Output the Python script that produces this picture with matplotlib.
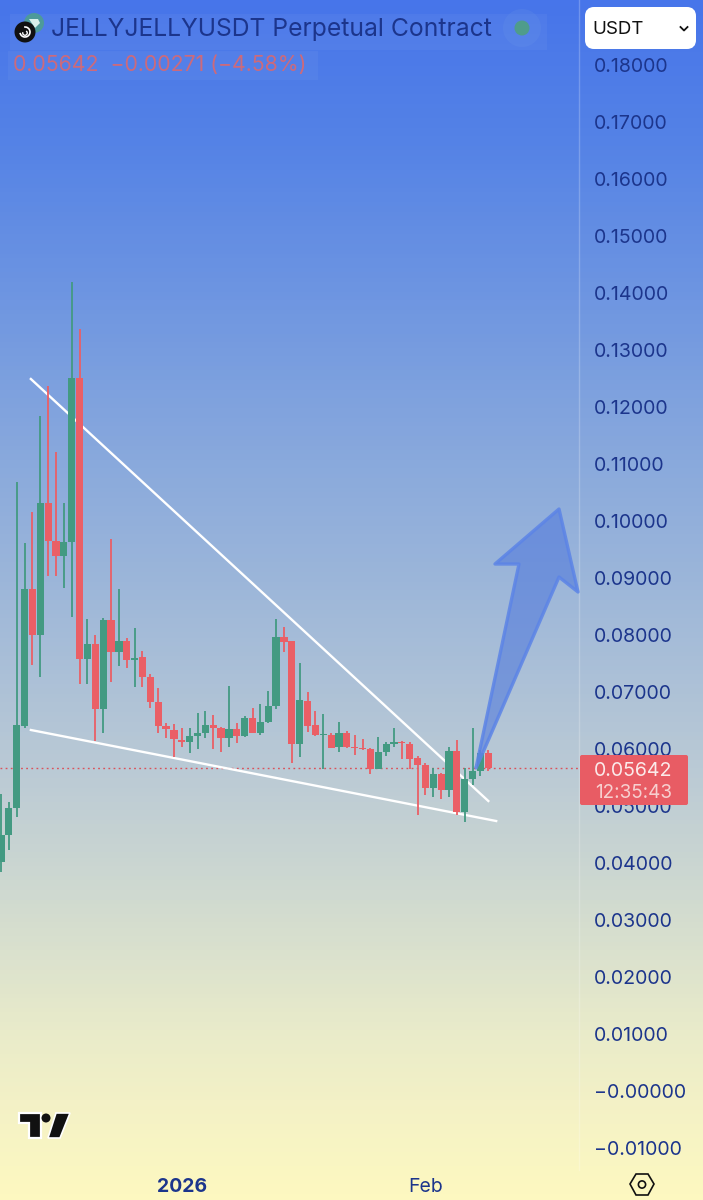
import numpy as np
import pandas as pd
import matplotlib
matplotlib.use("Agg")
import matplotlib.pyplot as plt
import matplotlib.dates as mdates
from matplotlib.colors import LinearSegmentedColormap, to_rgba
from matplotlib.patches import Polygon, Circle, FancyBboxPatch, Rectangle, Arc
from matplotlib.ticker import FixedLocator, FixedFormatter
from matplotlib.transforms import ScaledTranslation

plt.rcParams['font.family'] = ['Inter', 'DejaVu Sans']

# ---------- data ----------
start_date = "2025-12-09"
opens = [.04000,.04474,.04948,.06386,.08790,.07983,.10298,.09632,.09369,.09614,
         .12491,.07562,.07825,.06684,.08246,.07684,.07877,.07544,.07597,.07246,
         .06807,.06386,.06316,.06140,.06105,.06211,.06263,.06404,.06351,.06176,
         .06333,.06211,.06527,.06263,.06456,.06737,.07947,.07877,.06070,.06825,
         .06404,.06228,.06228,.06018,.06263,.06018,.06000,.05983,.05632,.05930,
         .06070,.06105,.06070,.05825,.05702,.05298,.05544,.05263,.05948,.04877,
         .05456,.05597,.05912]
closes = [.04474,.04948,.06404,.08790,.07983,.10298,.09632,.09369,.09614,.12491,
          .07562,.07825,.06684,.08246,.07684,.07877,.07544,.07579,.07246,.06807,
          .06386,.06333,.06158,.06105,.06211,.06263,.06404,.06351,.06176,.06333,
          .06211,.06527,.06263,.06456,.06737,.07947,.07860,.06070,.06842,.06386,
          .06228,.06246,.06000,.06263,.06018,.06000,.05983,.05632,.05930,.06070,
          .06105,.06088,.05807,.05702,.05298,.05544,.05263,.05948,.04877,.05456,
          .05597,.05912,.05642]
highs = [.05193,.05053,.10667,.09597,.10140,.11825,.12351,.11193,.10298,.14176,
         .13351,.08263,.07983,.08281,.09667,.08790,.07930,.08105,.07702,.07298,
         .07053,.06439,.06421,.06351,.06351,.06614,.06649,.06579,.06368,.07088,
         .06439,.06562,.06702,.06772,.07000,.08263,.08123,.07877,.07491,.06983,
         .06649,.06597,.06263,.06456,.06298,.06228,.06158,.06000,.06193,.06105,
         .06351,.06123,.06105,.05860,.05737,.05649,.05562,.06018,.06140,.05649,
         .06351,.05965,.05965]
lows = [.03825,.04211,.04790,.06351,.07456,.07246,.09018,.09018,.08807,.08298,
        .07123,.07123,.06123,.06263,.07158,.07439,.07404,.07070,.07070,.06702,
        .06263,.06176,.05842,.06018,.05912,.05983,.06176,.05983,.05930,.06018,
        .06088,.06193,.06263,.06228,.06439,.06684,.07684,.05737,.05842,.06281,
        .06211,.05632,.06000,.05930,.06000,.05877,.05965,.05544,.05632,.05860,
        .06018,.05807,.05632,.04825,.05176,.05141,.05105,.05141,.04825,.04702,
        .05351,.05509,.05597]
y_ticks = [.18,.17,.16,.15,.14,.13,.12,.11,.10,.09,.08,.07,.06,.05,.04,.03,.02,.01,0.0,-.01]
y_labels = ["0.18000","0.17000","0.16000","0.15000","0.14000","0.13000","0.12000",
            "0.11000","0.10000","0.09000","0.08000","0.07000","0.06000","0.05000",
            "0.04000","0.03000","0.02000","0.01000","\u22120.00000","\u22120.01000"]
x_tick_dates = ["2026-01-01", "2026-02-01"]
x_tick_labels = ["2026", "Feb"]
last_price = 0.05642
upper_trend_days = [3.8, 62.0]
upper_trend_prices = [0.12474, 0.05070]
lower_trend_days = [3.8, 63.0]
lower_trend_prices = [0.06316, 0.04719]

# ---------- styles ----------
GREEN = "#439a82"
RED = "#ea5f66"
NAVY = "#1c358c"
W, H = 703, 1200
AXES_W, AXES_H = 579, 1170

fig = plt.figure(figsize=(W / 100, H / 100), dpi=100)

# background gradient
bg = fig.add_axes([0, 0, 1, 1], zorder=0)
bg.axis("off")
cmap = LinearSegmentedColormap.from_list("bg", [
    (0.00, "#4775ea"), (0.12, "#5583e6"), (0.33, "#7fa2de"), (0.50, "#9fb8d9"),
    (0.65, "#bccbd5"), (0.75, "#d0dad0"), (0.86, "#e9ebca"), (0.94, "#f6f3c5"),
    (1.00, "#fdf8c0")])
bg.imshow(np.linspace(0, 1, 600)[:, None], aspect="auto", cmap=cmap, extent=[0, W, H, 0])
bg.set_xlim(0, W)
bg.set_ylim(H, 0)

# main price axes
ax = fig.add_axes([0, 1 - AXES_H / H, AXES_W / W, AXES_H / H], zorder=1)
ax.patch.set_alpha(0)
dates = pd.date_range(start_date, periods=len(opens))
xs = mdates.date2num(dates)
px_per_day = 7.86
ax.set_xlim(xs[0] - 1 / px_per_day, xs[0] + (AXES_W - 1) / px_per_day)
px_per_price = 5700
ax.set_ylim(0.18 - (AXES_H - 64) / px_per_price, 0.18 + 64 / px_per_price)

for x, o, h, l, c in zip(xs, opens, highs, lows, closes):
    col = GREEN if c >= o else RED
    ax.plot([x, x], [l, h], color=col, lw=1.3, solid_capstyle="butt", zorder=3)
    ax.add_patch(Rectangle((x - 0.46, min(o, c)), 0.92, max(abs(c - o), 0.00016),
                           facecolor=col, edgecolor="none", zorder=4))

ax.plot(xs[0] + np.array(upper_trend_days), upper_trend_prices, color="white", lw=1.7, zorder=2.5)
ax.plot(xs[0] + np.array(lower_trend_days), lower_trend_prices, color="white", lw=1.7, zorder=2.5)
ax.axhline(last_price, color="#d9535c", lw=1.0, ls=(0, (1.3, 2.4)), zorder=2)

for side in ["top", "left", "bottom"]:
    ax.spines[side].set_visible(False)
ax.spines["right"].set_color((1, 1, 1, 0.22))
ax.spines["right"].set_linewidth(1)

ax.yaxis.tick_right()
ax.yaxis.set_major_locator(FixedLocator(y_ticks))
ax.yaxis.set_major_formatter(FixedFormatter(y_labels))
ax.tick_params(axis="y", length=0, pad=10.6, labelsize=14.1, labelcolor=NAVY)
ax.xaxis.set_major_locator(FixedLocator(mdates.date2num(pd.to_datetime(x_tick_dates))))
ax.xaxis.set_major_formatter(FixedFormatter(x_tick_labels))
ax.tick_params(axis="x", length=0, pad=6, labelsize=14, labelcolor=NAVY)
ax.get_xticklabels()[0].set_fontweight("bold")
shift = ScaledTranslation(0, -1 / 100, fig.dpi_scale_trans)
for lab in ax.get_yticklabels():
    lab.set_transform(lab.get_transform() + shift)

# overlay: pixel-space decorations
ov = fig.add_axes([0, 0, 1, 1], zorder=2)
ov.patch.set_alpha(0)
ov.axis("off")
ov.set_xlim(0, W)
ov.set_ylim(H, 0)

# legend strip
ov.add_patch(Rectangle((10, 14), 537, 36, facecolor="white", alpha=0.04, edgecolor="none"))
ov.add_patch(Rectangle((8, 51), 310, 29, facecolor="white", alpha=0.04, edgecolor="none"))
ov.add_patch(Circle((34, 23), 10, facecolor="#4d9a9a", edgecolor="none"))
ov.add_patch(Polygon([(29, 19), (38, 19), (40, 23), (35, 28)], facecolor="#d8f0ea", edgecolor="none"))
ov.add_patch(Circle((25, 32), 10.5, facecolor="#111111", edgecolor="none"))
ov.add_patch(Arc((25, 32), 10, 10, theta1=-100, theta2=170, color="white", lw=1.2))
ov.add_patch(Arc((25, 33), 4.5, 4.5, theta1=-60, theta2=200, color="white", lw=1))
ov.text(51, 29.5, "JELLYJELLYUSDT Perpetual Contract", color=NAVY, fontsize=17.8,
        va="center", ha="left")
ov.add_patch(Circle((522, 28), 19, facecolor="#6f9ae8", alpha=0.18, edgecolor="none"))
ov.add_patch(Circle((522, 28), 7.5, facecolor="#4f9c8b", edgecolor="none"))
ov.text(13, 65.5, "0.05642  \u22120.00271 (\u22124.58%)", color="#cc6a7c", fontsize=15.3,
        va="center", ha="left")

# currency dropdown
ov.add_patch(FancyBboxPatch((589, 11), 103, 34, boxstyle="round,pad=0,rounding_size=5",
                            mutation_aspect=1, facecolor="white", edgecolor="white", lw=8 * 0.72))
ov.text(592, 29, "USDT", color="#111111", fontsize=13.5, va="center", ha="left")
ov.plot([680.5, 684, 687.5], [27, 30.5, 27], color="#111111", lw=1.3)

# arrow
ov.add_patch(Polygon([(476, 768), (519, 564), (495, 564), (559, 509), (578, 592),
                      (559, 577), (481, 757)],
                     closed=True, facecolor=to_rgba("#4f78dc", 0.58),
                     edgecolor=to_rgba("#5c84e6", 0.85), lw=2.4, joinstyle="round"))

# last-price tag
ov.add_patch(FancyBboxPatch((580, 755), 108, 50, boxstyle="round,pad=0,rounding_size=2",
                            facecolor="#e85c64", edgecolor="none"))
ov.text(594, 770.5, "0.05642", color="#fbeaea", fontsize=14.1, va="center", ha="left")
ov.text(595, 792.5, "12:35:43", color="#f7cfcf", fontsize=13.6, va="center", ha="left")

# TradingView mark
tv_color = "#111111"
ov.add_patch(Polygon([(19, 1113), (41, 1113), (41, 1138), (29, 1138), (29, 1123), (19, 1123)],
                     facecolor=tv_color, edgecolor="white", lw=1.6))
ov.add_patch(Circle((46, 1118), 4.5, facecolor=tv_color, edgecolor="none"))
ov.add_patch(Polygon([(56, 1113), (70, 1113), (60, 1138), (48, 1138)],
                     facecolor=tv_color, edgecolor="white", lw=1.2))

# settings hexagon
ov.add_patch(Polygon([(630, 1184), (636, 1174), (648, 1174), (654, 1184), (648, 1195), (636, 1195)],
                     closed=True, facecolor="none", edgecolor="#111111", lw=1.2))
ov.add_patch(Circle((642, 1184.5), 3.6, facecolor="none", edgecolor="#111111", lw=1.2))

fig.savefig("out.png", dpi=100)
